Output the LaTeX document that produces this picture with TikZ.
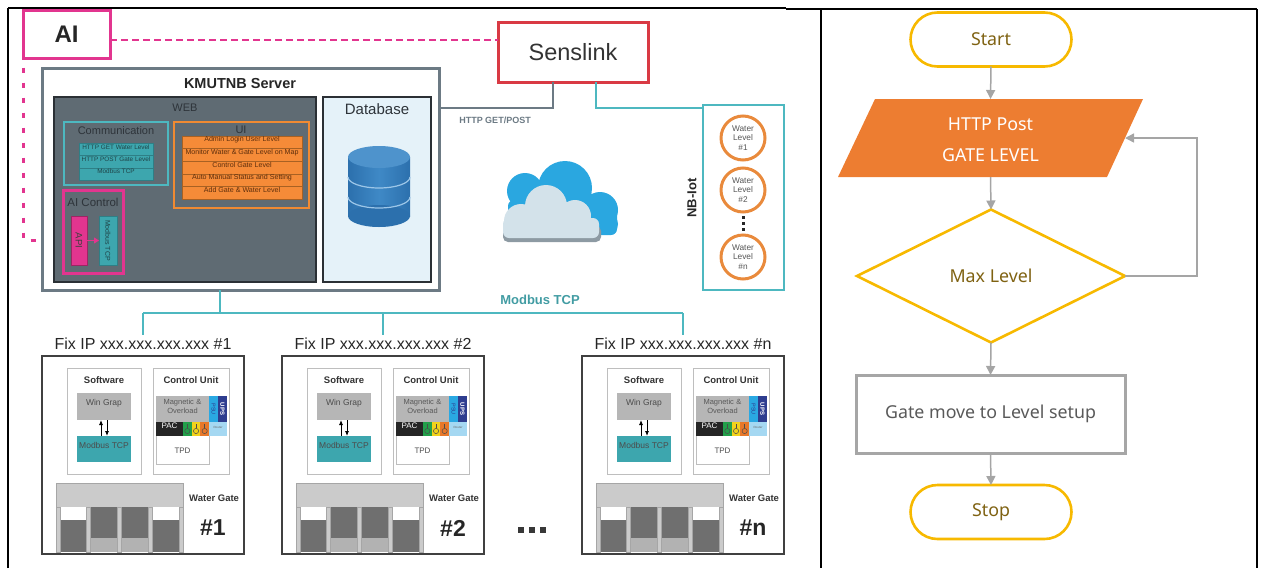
\documentclass[tikz,border=0pt]{standalone}
\usepackage{fontspec}
\setmainfont{Liberation Sans}
\newfontfamily\flowfont{Noto Sans}
\usetikzlibrary{arrows.meta,shapes.geometric,calc,fit}

\definecolor{aipink}{HTML}{E2358F}
\definecolor{senred}{HTML}{D93A44}
\definecolor{srvgray}{HTML}{6C7A84}
\definecolor{webfill}{HTML}{5F6B73}
\definecolor{webedge}{HTML}{2B3035}
\definecolor{webtext}{HTML}{2E343A}
\definecolor{tealedge}{HTML}{4DB8C0}
\definecolor{tealfill}{HTML}{3DA6AE}
\definecolor{tealdark}{HTML}{2E7F86}
\definecolor{commtext}{HTML}{1F4448}
\definecolor{uiedge}{HTML}{F08A32}
\definecolor{uifill}{HTML}{F58B38}
\definecolor{uitext}{HTML}{5E2E0C}
\definecolor{dbfill}{HTML}{E5F2F9}
\definecolor{dbblue}{HTML}{2C70AD}
\definecolor{dbmid}{HTML}{3F89C6}
\definecolor{dbtop}{HTML}{4E93CC}
\definecolor{dbsep}{HTML}{9CC6E8}
\definecolor{wlorange}{HTML}{E98A3C}
\definecolor{wltext}{HTML}{555555}
\definecolor{gateedge}{HTML}{404040}
\definecolor{lightedge}{HTML}{BEBEBE}
\definecolor{boxgray}{HTML}{B6B6B6}
\definecolor{gatetop}{HTML}{CBCBCB}
\definecolor{panel}{HTML}{6F6F6F}
\definecolor{psublue}{HTML}{2AA8E2}
\definecolor{upsnavy}{HTML}{2E3D8F}
\definecolor{routerblue}{HTML}{A5D8F2}
\definecolor{indgreen}{HTML}{22A04A}
\definecolor{indyellow}{HTML}{F2D21B}
\definecolor{indorange}{HTML}{E8782A}
\definecolor{fgold}{HTML}{F7B900}
\definecolor{fbrown}{HTML}{7F6212}
\definecolor{forange}{HTML}{ED7D31}
\definecolor{farrow}{HTML}{A5A5A5}
\definecolor{fgrayedge}{HTML}{A6A6A6}
\definecolor{ftext}{HTML}{595959}
\definecolor{cloudblue}{HTML}{2AA7E0}
\definecolor{cloudlight}{HTML}{D3E2EA}
\definecolor{cloudshade}{HTML}{8D9AA3}

\newcommand\fsz[1]{\fontsize{#1}{#1}\selectfont}

\begin{document}
\begin{tikzpicture}[x=1pt,y=-1pt,
  region/.style={inner sep=0pt,outer sep=0pt},
  txt/.style={inner sep=0pt,outer sep=0pt},
  farr/.style={draw=farrow,line width=1.5pt,-{Triangle[length=9pt,width=9pt]}},
  term/.style={region,draw=fgold,line width=2.6pt,rounded corners=27pt,minimum width=161pt,minimum height=54pt,font=\flowfont\fsz{17.8},text=fbrown,fill=white},
  tealline/.style={draw=tealedge,line width=2.5pt},
]
\useasboundingbox (0,0) rectangle (1263,568);

% table frame
\draw[line width=2.5pt] (8,568) -- (8,8);
\draw[line width=1.2pt] (8,8) -- (786,8);
\draw[line width=2pt] (786,9) -- (1257,9);
\draw[line width=2.5pt] (821,9) -- (821,568);
\draw[line width=2pt] (1257,9) -- (1257,568);

% ---------- top: AI and Senslink ----------
\node[region,draw=aipink,line width=3pt,minimum width=87pt,minimum height=48pt,font=\bfseries\fsz{24},text=black!85] (ai) at (66.5,34.5) {AI};
\node[region,draw=senred,line width=3pt,minimum width=150pt,minimum height=60pt,font=\fsz{23.5},text=black!80] (sens) at (573,52) {Senslink};
\coordinate (dl) at (0,40);
\draw[aipink,line width=2.5pt,dash pattern=on 7pt off 4pt] (ai.east |- dl) -- (sens.west |- dl);

% ---------- KMUTNB server ----------
\node[fit={(42,68) (439,290)},region,draw=srvgray,line width=3pt,fill=white] (srv) {};
\node[txt,font=\bfseries\fsz{14.5},text=black!85] (srvt) at (240,84) {KMUTNB Server};
\node[fit={(54,97) (316,282)},region,fill=webfill,draw=webedge,line width=2pt] (web) {};
\node[txt,font=\fsz{11},text=webtext] (webt) at (185,108) {WEB};
\node[fit={(323,97) (431,282)},region,fill=dbfill,draw=webedge,line width=2.5pt] (db) {};
\node[txt,font=\fsz{15},text=webtext] (dbt) at (377,109) {Database};

% database cylinder
\shade[left color=dbblue,right color=dbblue,middle color=dbmid] (348,157) rectangle (410,216);
\fill[dbblue] (379,216) ellipse[x radius=31,y radius=11];
\foreach \yy in {177,197}{
  \draw[dbsep,line width=1.2pt] (410,\yy) arc[start angle=0,end angle=180,x radius=31,y radius=11];
}
\fill[dbtop] (379,157) ellipse[x radius=31,y radius=11];

% communication block
\node[fit={(64,122) (168,185)},region,draw=tealedge,line width=2pt] (comm) {};
\node[txt,font=\fsz{11},text=webtext] (commt) at (116,131) {Communication};
\foreach \t [count=\i] in {HTTP GET Water Level,HTTP POST Gate Level,Modbus TCP}{
  \pgfmathsetmacro\ya{130.6+12.4*\i}
  \pgfmathsetmacro\yb{\ya+12.4}
  \node[fit={(79,\ya) (153,\yb)},region,fill=tealfill,draw=tealdark,line width=0.6pt,font=\fsz{6.4},text=commtext] (comm\i) {\t};
}

% UI block
\node[fit={(174,122) (309,208)},region,draw=uiedge,line width=2.5pt] (ui) {};
\node[txt,font=\fsz{11},text=webtext] (uit) at (241,130) {UI};
\foreach \t [count=\i] in {Admin Login User Level,Monitor Water \& Gate Level on Map,Control Gate Level,Auto Manual Status and Setting,Add Gate \& Water Level}{
  \pgfmathsetmacro\ya{123.4+12.6*\i}
  \pgfmathsetmacro\yb{\ya+12.6}
  \node[fit={(182,\ya) (302,\yb)},region,fill=uifill,draw=uiedge!70!black,line width=0.5pt,font=\fsz{7.1},text=uitext] (ui\i) {\t};
}

% AI control block
\node[fit={(63,190) (123,273)},region,draw=aipink,line width=3pt] (aic) {};
\node[txt,font=\fsz{11.5},text=webtext] (aict) at (93,202) {AI Control};
\node[fit={(71,216) (87,265)},region,fill=aipink,draw=aipink!70!black,line width=0.5pt] (api) {};
\node[txt,rotate=-90,font=\fsz{9.5},text=black!75] (apit) at (api) {API};
\node[fit={(99,216) (117,265)},region,fill=tealfill,draw=tealdark,line width=0.5pt] (amb) {};
\node[txt,rotate=-90,font=\fsz{7},text=commtext] (ambt) at (amb) {Modbus TCP};
\draw[aipink,line width=1pt,-{Triangle[length=5pt,width=6pt]}] (api.east) -- (amb.west);

% AI link into the server
\coordinate (ac) at (0,240);
\draw[aipink,line width=3pt,dash pattern=on 5pt off 10pt,dash phase=-9pt] (ai.south west) -- (ai.south west |- ac) -- (srv.west |- ac);

% ---------- NB-IoT water level sensors ----------
\node[fit={(703,105) (784,290)},region,draw=tealedge,line width=2.5pt] (nb) {};
\node[txt,rotate=90,font=\bfseries\fsz{13},text=black!85] (nbt) at (692,198) {NB-Iot};
\foreach \y/\n in {138/1,190/2,257/n}{
  \node[circle,draw=wlorange,line width=3pt,minimum size=44pt,inner sep=0pt,align=center,font=\fontsize{8.3}{9.8}\selectfont,text=wltext] (wl\n) at (743,\y) {Water\\Level\\\#\n};
}
\foreach \k in {0,1,2}{
  \fill[black!85] (741.5,216+6*\k) rectangle ++(3,3);
}

% links from Senslink
\coordinate (hl) at (0,108);
\coordinate (s1) at (553,0);
\coordinate (s2) at (596,0);
\draw[srvgray,line width=2.5pt] (sens.south -| s1) |- (srv.east |- hl);
\draw[tealline] (sens.south -| s2) |- (nb.west |- hl);
\node[txt,font=\bfseries\fsz{9},text=srvgray] (http) at (495,120) {HTTP GET/POST};

% cloud
\fill[cloudblue] (525,191) circle[radius=18] (565,188) circle[radius=27] (600,210) circle[radius=18] (607,224) circle[radius=11];
\fill[cloudblue,rounded corners=6pt] (508,200) rectangle (617,235);
\fill[cloudshade,rounded corners=5pt] (503,226) rectangle (601,242);
\fill[cloudlight] (521,221) circle[radius=17] (546,206) circle[radius=21] (575,216) circle[radius=16] (589,228) circle[radius=10];
\fill[cloudlight,rounded corners=6pt] (503,218) rectangle (599,238);

% ---------- water gate stations ----------
\foreach \L/\id in {42/1,282/2,582/n}{
 \begin{scope}[shift={(\L,0)}]
  \node[fit={(0,356) (202,554)},region,draw=gateedge,line width=1.8pt] (gate\id) {};
  \node[txt,font=\fsz{16},text=black!85] (ip\id) at (101,344) {Fix IP xxx.xxx.xxx.xxx \#\id};
  % software
  \node[fit={(25,368) (99,474)},region,draw=lightedge,line width=1pt] (sw\id) {};
  \node[txt,font=\bfseries\fsz{9.5},text=black!80] (swt\id) at (62,380) {Software};
  \node[fit={(35,393) (89,420)},region,fill=boxgray,font=\fsz{8.5},text=black!70] (wg\id) {Win Grap};
  \node[fit={(35,436) (89,462)},region,fill=tealfill,font=\fsz{8.5},text=black!70] (mb\id) {Modbus TCP};
  \draw[line width=0.8pt,-{Latex[length=5pt,width=4pt]}] ([xshift=-3pt]mb\id.north) -- ([xshift=-3pt]wg\id.south);
  \draw[line width=0.8pt,-{Latex[length=5pt,width=4pt]}] ([xshift=3pt]wg\id.south) -- ([xshift=3pt]mb\id.north);
  % control unit
  \node[fit={(111,368) (187,474)},region,draw=lightedge,line width=1pt] (cu\id) {};
  \node[txt,font=\bfseries\fsz{9.5},text=black!80] (cut\id) at (149,380) {Control Unit};
  \node[fit={(114,396) (167,464)},region,draw=lightedge,line width=0.8pt] (tpd\id) {};
  \node[txt,font=\fsz{8},text=black!70] (tpdt\id) at (140.5,451) {TPD};
  \node[fit={(114,396) (167,422)},region,fill=boxgray,align=center,font=\fontsize{7.5}{8.5}\selectfont,text=black!65] (mag\id) {Magnetic \&\\Overload};
  \node[fit={(167,396) (176,422)},region,fill=psublue] (psu\id) {};
  \node[txt,rotate=-90,font=\fsz{5.5},text=upsnavy] (psut\id) at (psu\id) {PSU};
  \node[fit={(176,396) (185,422)},region,fill=upsnavy] (ups\id) {};
  \node[txt,rotate=-90,font=\bfseries\fsz{6},text=white] (upst\id) at (ups\id) {UPS};
  \node[fit={(114,422) (141,436)},region,fill=black!85,font=\fsz{8},text=white] (pac\id) {PAC};
  \node[fit={(167,422) (185,436)},region,fill=routerblue,font=\fsz{3},text=black!60] (rt\id) {Router};
  \foreach \cx/\cc in {141/indgreen,149.7/indyellow,158.3/indorange}{
    \fill[\cc] (\cx,422) rectangle ++(8.7,14);
    \draw[black!70,line width=0.5pt] (\cx+4.35,431) circle[radius=2.6];
    \draw[black!70,line width=0.5pt] (\cx+4.35,424) -- (\cx+4.35,428.4);
  }
  % gate structure
  \node[fit={(14,483) (141,507)},region,fill=gatetop,draw=black!35,line width=0.5pt] (bar\id) {};
  \fill[white] (18,507) rectangle (44,520);
  \fill[panel] (18,520) rectangle (44,552);
  \fill[white] (110,507) rectangle (137,520);
  \fill[panel] (110,520) rectangle (137,552);
  \fill[panel] (48,507) rectangle (75,538);
  \fill[black!30] (48,538) rectangle (75,552);
  \fill[panel] (79,507) rectangle (106,538);
  \fill[black!30] (79,538) rectangle (106,552);
  \foreach \px in {14,44,75,106,137}{
    \filldraw[fill=gatetop,draw=black!35,line width=0.4pt] (\px,507) rectangle ++(4,45);
  }
  \node[txt,anchor=east,font=\bfseries\fsz{9.5},text=black!80] (wgt\id) at (197,498) {Water Gate};
  \node[txt,font=\bfseries\fsz{23},text=black!85] (num\id) at (171,528) {\#\id};
 \end{scope}
}
\foreach \dx in {518,529,540}{
  \fill[black!78] (\dx,527) rectangle ++(6,6);
}

% Modbus TCP bus to the stations
\coordinate (bus) at (0,313);
\coordinate (mx) at (220,0);
\draw[tealline] (srv.south -| mx) -- (mx |- bus);
\draw[tealline] (ip1.north |- bus) -- (ipn.north |- bus);
\foreach \id in {1,2,n}{
  \draw[tealline] (ip\id.north |- bus) -- ([yshift=3pt]ip\id.north);
}
\node[txt,font=\bfseries\fsz{13},text=tealedge!85!black] (mbl) at (540,300) {Modbus TCP};

% ---------- flowchart ----------
\node[term] (start) at (991,39.5) {Start};
\node[region,minimum width=269pt,minimum height=78pt] (post) at (990.5,138) {};
\fill[forange] ([xshift=19pt]post.north west) -- ([xshift=18pt]post.north east) -- ([xshift=-18pt]post.south east) -- ([xshift=-18pt]post.south west) -- cycle;
\node[txt,align=center,font=\flowfont\fontsize{17.8}{31}\selectfont,text=white] (postt) at ([yshift=-2pt]post.center) {HTTP Post\\GATE LEVEL};
\node[diamond,draw=fgold,line width=2.6pt,minimum width=268pt,minimum height=133pt,inner sep=0pt,outer sep=0pt,font=\flowfont\fsz{17.8},text=fbrown] (dec) at (991,276) {Max Level};
\node[region,draw=fgrayedge,line width=3pt,minimum width=269pt,minimum height=78pt,font=\flowfont\fsz{17.8},text=ftext] (act) at (990.5,414) {Gate move to Level setup};
\node[term] (stop) at (991,512) {Stop};

\draw[farr] (start.south) -- (post.north);
\draw[farr] (post.south) -- (dec.north);
\draw[farr] (dec.south) -- (act.north);
\draw[farr] (act.south) -- (stop.north);
\coordinate (fb) at (1197,0);
\draw[farr] (dec.east) -- (dec.east -| fb) -- (fb |- post.east) -- (post.east);

\end{tikzpicture}
\end{document}
